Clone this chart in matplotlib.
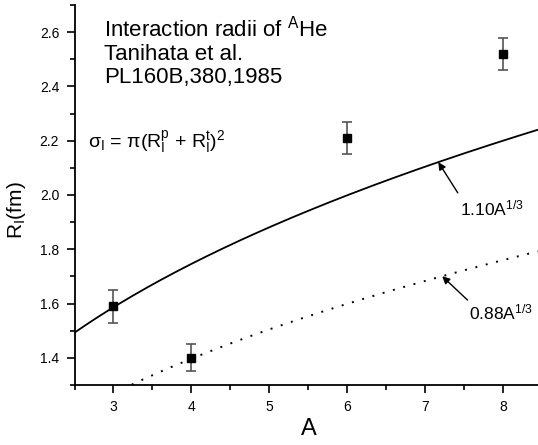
import numpy as np
import matplotlib
matplotlib.use("Agg")
import matplotlib.pyplot as plt

plt.rcParams['font.family'] = ['Liberation Sans', 'DejaVu Sans']
plt.rcParams['mathtext.fontset'] = 'custom'
plt.rcParams['mathtext.rm'] = 'Liberation Sans'
plt.rcParams['mathtext.it'] = 'Liberation Sans'
plt.rcParams['mathtext.bf'] = 'Liberation Sans:bold'

# measured interaction radii
mass_A = [3, 4, 6, 8]
radius = [1.59, 1.40, 2.21, 2.52]
radius_err = [0.06, 0.05, 0.06, 0.06]

# r0 coefficients of the two R = r0 * A^(1/3) curves
r0_solid = 1.10
r0_dot = 0.88

fig = plt.figure(figsize=(5.38, 4.45), dpi=100)
ax = fig.add_axes([0.1385, 0.1348, 0.8615, 0.854])

A = np.linspace(2.5, 8.45, 300)
ax.plot(A, r0_solid * A ** (1 / 3), color='k', lw=1.3)
ax.plot(A, r0_dot * A ** (1 / 3), color='k', lw=1.4, ls=(0, (1, 4.5)))

ax.errorbar(mass_A, radius, yerr=radius_err, fmt='s', color='k', ms=6,
            ecolor='#555555', elinewidth=1.2, capsize=3.5, capthick=1.2, zorder=5)

ax.set_xlim(2.5, 8.45)
ax.set_ylim(1.3, 2.7)
ax.set_xticks([3, 4, 5, 6, 7, 8])
ax.set_xticks(np.arange(2.5, 8.5, 0.5), minor=True)
ax.set_yticks([1.4, 1.6, 1.8, 2.0, 2.2, 2.4, 2.6])
ax.set_yticks(np.arange(1.3, 2.71, 0.1), minor=True)
ax.set_yticklabels(['1.4', '1.6', '1.8', '2.0', '2.2', '2.4', '2.6'])

for s in ['top', 'right']:
    ax.spines[s].set_visible(False)
for s in ['left', 'bottom']:
    ax.spines[s].set_linewidth(1.3)
ax.tick_params(which='major', direction='out', length=6, width=1.2, labelsize=10, pad=5)
ax.tick_params(which='minor', direction='out', length=3.5, width=1.2)

ax.set_xlabel('A', fontsize=17)
ax.xaxis.set_label_coords(0.505, -0.088)
ax.set_ylabel(r'R$_\mathregular{I}$(fm)', fontsize=15)
ax.yaxis.set_label_coords(-0.1, 0.46)

ax.text(2.88, 2.66, 'Interaction radii of $^{A}$He\nTanihata et al.\nPL160B,380,1985',
        fontsize=16, va='top', ha='left', linespacing=1.12)
ax.text(2.675, 2.195, r'$\sigma_I$ = $\pi$(R$_I^p$ + R$_I^t$)$^2$',
        fontsize=14, va='center', ha='left')

arrow = dict(arrowstyle='-|>', color='k', lw=1.0, mutation_scale=11, shrinkA=0, shrinkB=0)
ax.annotate('', xy=(7.17, r0_solid * 7.17 ** (1 / 3)), xytext=(7.42, 2.008), arrowprops=arrow)
ax.text(7.45, 1.95, '1.10A$^{1/3}$', fontsize=12.5, va='center', ha='left')
ax.annotate('', xy=(7.22, r0_dot * 7.22 ** (1 / 3)), xytext=(7.545, 1.613), arrowprops=arrow)
ax.text(7.57, 1.569, '0.88A$^{1/3}$', fontsize=12.5, va='center', ha='left')

fig.savefig('out.png', dpi=100)
